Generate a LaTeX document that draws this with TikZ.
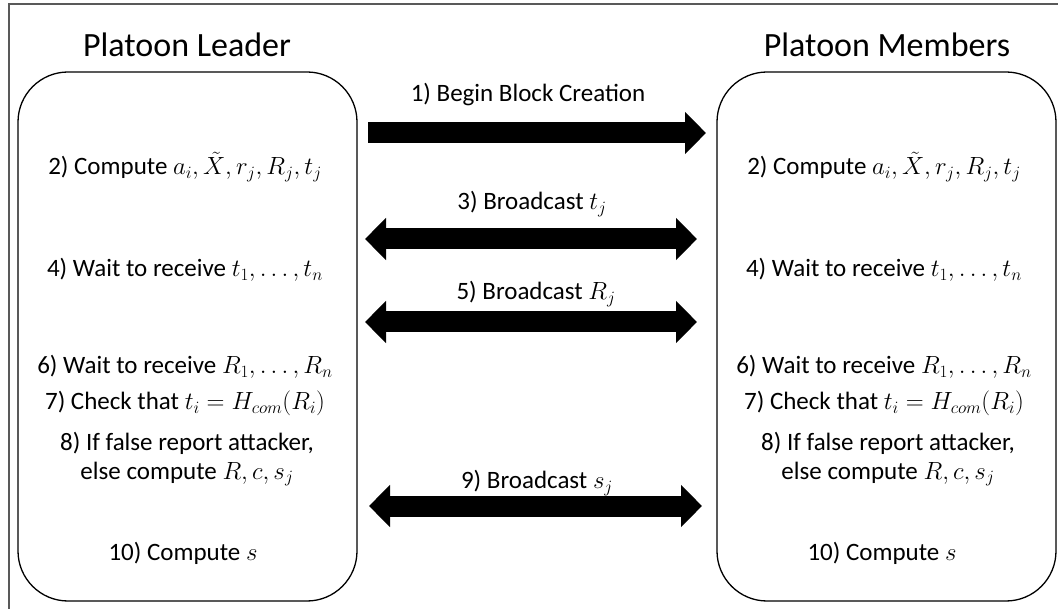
\documentclass[tikz,border=0pt]{standalone}
\usepackage{fontspec}
\setmainfont{Carlito}
\usetikzlibrary{arrows.meta}

\tikzset{
  frame/.style={draw=black!65, line width=1.5pt},
  panel/.style={draw=black, line width=1.3pt, rounded corners=50pt,
    minimum width=339pt, minimum height=529pt, inner sep=0pt, outer sep=0pt},
  title/.style={anchor=base, inner sep=0pt, font=\fontsize{34}{40}\selectfont},
  txt/.style={anchor=base, inner sep=0pt, font=\fontsize{25}{30}\selectfont},
  fat/.style={draw=black, line width=21pt,
    >={Triangle[length=21pt,width=41pt]}},
}

\begin{document}
\begin{tikzpicture}[x=1pt, y=-1pt]
\useasboundingbox (0,0) rectangle (1058,609);

% outer frame (top and left edges)
\draw[frame] (9,609) |- (1058,4);

% the two parties
\node[panel] (leader)  at (187.5,336.5) {};
\node[panel] (members) at (886.5,336.5) {};

\node[title] (tl) at (187,57) {Platoon Leader};
\node[title] (tm) at (887,57) {Platoon Members};

% leader steps
\node[txt] (l2)  at (185,175) {2) Compute $a_i, \tilde{X}, r_j, R_j, t_j$};
\node[txt] (l4)  at (185,277) {4) Wait to receive $t_1, \ldots, t_n$};
\node[txt] (l6)  at (185,374) {6) Wait to receive $R_1, \ldots, R_n$};
\node[txt] (l7)  at (185,410) {7) Check that $t_i = H_{com}(R_i)$};
\node[txt] (l8a) at (187,451) {8) If false report attacker,};
\node[txt] (l8b) at (187,479) {else compute $R, c, s_j$};
\node[txt] (l10) at (183,560) {10) Compute $s$};

% member steps
\node[txt] (m2)  at (884,175) {2) Compute $a_i, \tilde{X}, r_j, R_j, t_j$};
\node[txt] (m4)  at (884,277) {4) Wait to receive $t_1, \ldots, t_n$};
\node[txt] (m6)  at (884,374) {6) Wait to receive $R_1, \ldots, R_n$};
\node[txt] (m7)  at (884,410) {7) Check that $t_i = H_{com}(R_i)$};
\node[txt] (m8a) at (888,451) {8) If false report attacker,};
\node[txt] (m8b) at (888,479) {else compute $R, c, s_j$};
\node[txt] (m10) at (882,560) {10) Compute $s$};

% message labels
\node[txt] (a1) at (528,102) {1) Begin Block Creation};
\node[txt] (a3) at (532,210) {3) Broadcast $t_j$};
\node[txt] (a5) at (536,300) {5) Broadcast $R_j$};
\node[txt] (a9) at (537,489) {9) Broadcast $s_j$};

% messages
\draw[fat, ->, shorten <=11pt, shorten >=11pt]
  (leader.east |- 0,133) -- (members.west |- 0,133);
\draw[fat, <->, shorten <=8pt, shorten >=20pt]
  (leader.east |- 0,239) -- (members.west |- 0,239);
\draw[fat, <->, shorten <=8pt, shorten >=20pt]
  (leader.east |- 0,322) -- (members.west |- 0,322);
\draw[fat, <->, shorten <=12pt, shorten >=15pt]
  (leader.east |- 0,506) -- (members.west |- 0,506);
\end{tikzpicture}
\end{document}
